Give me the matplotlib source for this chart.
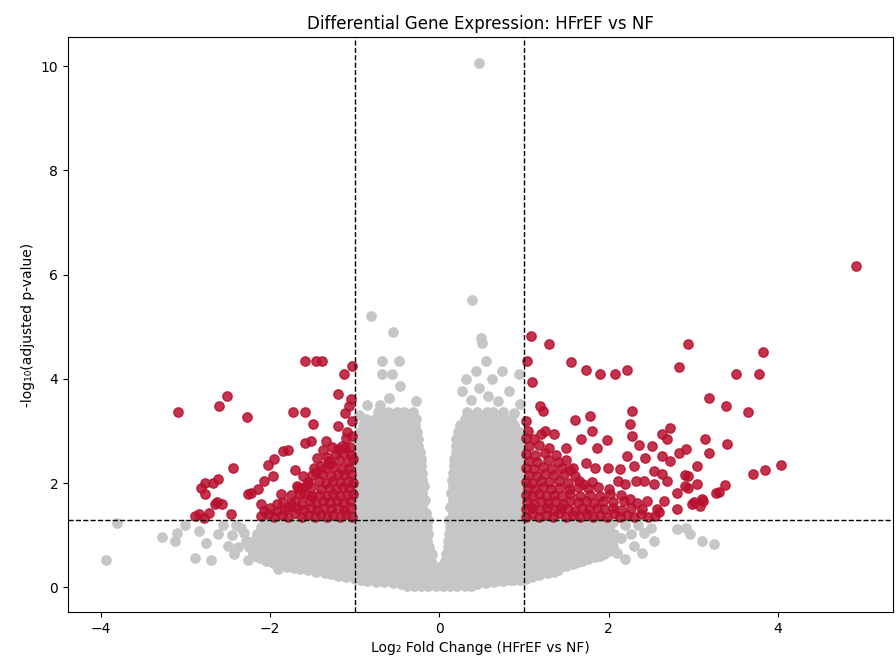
import numpy as np
import matplotlib
matplotlib.use('Agg')
import matplotlib.pyplot as plt

# grey cloud (not significant)
cloud_y = [0.03, 0.14, 0.27, 0.39, 0.51, 0.64, 0.77, 0.90, 1.03, 1.16, 1.26,
           1.29, 1.42, 1.55, 1.68, 1.81, 1.94, 2.07, 2.2, 2.33, 2.46, 2.59,
           2.72, 2.85, 2.98, 3.11, 3.24, 3.37]
cloud_x = [
    [-0.38, -0.3, -0.21, -0.13, -0.04, 0.04, 0.13, 0.21, 0.3, 0.38],
    [-0.92, -0.84, -0.75, -0.67, -0.58, -0.5, -0.41, -0.33, -0.24, -0.16, -0.07, 0.02, 0.1, 0.19, 0.27,
     0.36, 0.44, 0.53, 0.61, 0.7, 0.78, 0.87, 0.95],
    [-1.35, -1.27, -1.18, -1.1, -1.01, -0.93, -0.84, -0.76, -0.67, -0.59, -0.5, -0.42, -0.33, -0.25,
     -0.16, -0.08, 0.01, 0.09, 0.18, 0.26, 0.35, 0.43, 0.52, 0.6, 0.69, 0.77, 0.86, 0.94, 1.03, 1.11,
     1.2, 1.28],
    [-1.8, -1.72, -1.63, -1.55, -1.46, -1.38, -1.29, -1.21, -1.12, -1.04, -0.95, -0.87, -0.78, -0.7,
     -0.61, -0.53, -0.44, -0.36, -0.27, -0.19, -0.1, -0.02, 0.07, 0.15, 0.24, 0.32, 0.41, 0.49, 0.58,
     0.66, 0.75, 0.83, 0.92, 1.0, 1.09, 1.17, 1.26, 1.34, 1.43],
    [-2.05, -1.97, -1.88, -1.8, -1.71, -1.63, -1.54, -1.46, -1.37, -1.29, -1.2, -1.12, -1.03, -0.95,
     -0.86, -0.78, -0.69, -0.61, -0.52, -0.44, -0.35, -0.27, -0.18, -0.1, 0.07, 0.16, 0.24, 0.33, 0.41,
     0.5, 0.58, 0.67, 0.75, 0.84, 0.92, 1.01, 1.09, 1.18, 1.26, 1.35, 1.43, 1.52, 1.6, 1.69],
    [-2.2, -2.12, -2.03, -1.95, -1.86, -1.78, -1.69, -1.61, -1.52, -1.44, -1.35, -1.27, -1.18, -1.1,
     -1.01, -0.93, -0.84, -0.76, -0.67, -0.59, -0.5, -0.42, -0.33, -0.25, -0.16, -0.09, 0.08, 0.16, 0.25,
     0.33, 0.42, 0.5, 0.59, 0.67, 0.76, 0.84, 0.93, 1.01, 1.1, 1.18, 1.27, 1.35, 1.44, 1.52, 1.61, 1.69,
     1.78, 1.86, 1.95],
    [-2.25, -2.16, -2.08, -1.99, -1.91, -1.82, -1.74, -1.65, -1.57, -1.48, -1.4, -1.31, -1.23, -1.14,
     -1.06, -0.97, -0.89, -0.8, -0.72, -0.63, -0.55, -0.46, -0.38, -0.29, -0.21, -0.12, 0.1, 0.18, 0.27,
     0.35, 0.44, 0.52, 0.61, 0.69, 0.78, 0.86, 0.95, 1.03, 1.12, 1.2, 1.29, 1.37, 1.46, 1.54, 1.63, 1.71,
     1.8, 1.88, 1.97, 2.05],
    [-2.2, -2.12, -2.03, -1.95, -1.86, -1.78, -1.69, -1.61, -1.52, -1.44, -1.35, -1.27, -1.18, -1.1,
     -1.01, -0.93, -0.84, -0.76, -0.67, -0.59, -0.5, -0.42, -0.33, -0.25, -0.14, 0.1, 0.18, 0.27, 0.35,
     0.44, 0.52, 0.61, 0.69, 0.78, 0.86, 0.95, 1.03, 1.12, 1.2, 1.29, 1.37, 1.46, 1.54, 1.63, 1.71, 1.8,
     1.88, 1.97, 2.05],
    [-2.15, -2.07, -1.98, -1.9, -1.81, -1.73, -1.64, -1.56, -1.47, -1.39, -1.3, -1.22, -1.13, -1.05,
     -0.96, -0.88, -0.79, -0.71, -0.62, -0.54, -0.45, -0.37, -0.28, -0.2, -0.13, 0.12, 0.2, 0.29, 0.37,
     0.46, 0.54, 0.63, 0.71, 0.8, 0.88, 0.97, 1.05, 1.14, 1.22, 1.31, 1.39, 1.48, 1.56, 1.65, 1.73, 1.82,
     1.9, 1.99, 2.07],
    [-2.1, -2.01, -1.93, -1.84, -1.76, -1.67, -1.59, -1.5, -1.42, -1.33, -1.25, -1.16, -1.08, -0.99,
     -0.91, -0.82, -0.74, -0.65, -0.57, -0.48, -0.4, -0.31, -0.23, -0.14, 0.13, 0.21, 0.3, 0.38, 0.47,
     0.55, 0.64, 0.72, 0.81, 0.89, 0.98, 1.06, 1.15, 1.23, 1.32, 1.4, 1.49, 1.57, 1.66, 1.74, 1.83, 1.91,
     2.0],
    [-2.05, -1.97, -1.88, -1.8, -1.71, -1.63, -1.54, -1.46, -1.37, -1.29, -1.2, -1.12, -1.03,
     1.04, 1.12, 1.21, 1.29, 1.38, 1.46, 1.55, 1.63, 1.72, 1.8, 1.89, 1.97, 2.05],
    # the two lobes between the fold-change lines
    [-0.97, -0.88, -0.8, -0.71, -0.63, -0.54, -0.46, -0.37, -0.29, -0.2, -0.13,
     0.12, 0.2, 0.29, 0.37, 0.46, 0.54, 0.63, 0.71, 0.8, 0.88, 0.97],
    [-0.93, -0.84, -0.76, -0.67, -0.59, -0.5, -0.42, -0.33, -0.25, -0.16,
     0.16, 0.25, 0.33, 0.42, 0.5, 0.59, 0.67, 0.76, 0.84, 0.93],
    [-0.97, -0.88, -0.8, -0.71, -0.63, -0.54, -0.46, -0.37, -0.29, -0.2,
     0.13, 0.2, 0.29, 0.37, 0.46, 0.54, 0.63, 0.71, 0.8, 0.88, 0.97],
    [-0.93, -0.84, -0.76, -0.67, -0.59, -0.5, -0.42, -0.33, -0.25, -0.17,
     0.16, 0.25, 0.33, 0.42, 0.5, 0.59, 0.67, 0.76, 0.84, 0.93],
    [-0.97, -0.88, -0.8, -0.71, -0.63, -0.54, -0.46, -0.37, -0.29, -0.2,
     0.14, 0.21, 0.29, 0.37, 0.46, 0.54, 0.63, 0.71, 0.8, 0.88, 0.97],
    [-0.93, -0.84, -0.76, -0.67, -0.59, -0.5, -0.42, -0.33, -0.25, -0.18,
     0.16, 0.25, 0.33, 0.42, 0.5, 0.59, 0.67, 0.76, 0.84, 0.93],
    [-0.97, -0.88, -0.8, -0.71, -0.63, -0.54, -0.46, -0.37, -0.29, -0.2,
     0.15, 0.22, 0.29, 0.37, 0.46, 0.54, 0.63, 0.71, 0.8, 0.88, 0.97],
    [-0.93, -0.84, -0.76, -0.67, -0.59, -0.5, -0.42, -0.33, -0.25, -0.2,
     0.16, 0.25, 0.33, 0.42, 0.5, 0.59, 0.67, 0.76, 0.84, 0.93],
    [-0.97, -0.88, -0.8, -0.71, -0.63, -0.54, -0.46, -0.37, -0.29, -0.21,
     0.17, 0.24, 0.31, 0.39, 0.46, 0.54, 0.63, 0.71, 0.8, 0.88, 0.97],
    [-0.93, -0.84, -0.76, -0.67, -0.59, -0.5, -0.42, -0.33, -0.25, -0.22,
     0.18, 0.25, 0.33, 0.42, 0.5, 0.59, 0.67, 0.76, 0.84, 0.93],
    [-0.97, -0.88, -0.8, -0.71, -0.63, -0.54, -0.46, -0.37, -0.29, -0.23,
     0.2, 0.29, 0.37, 0.46, 0.54, 0.63, 0.71, 0.8, 0.88, 0.97],
    [-0.93, -0.84, -0.76, -0.67, -0.59, -0.5, -0.42, -0.33, -0.25,
     0.2, 0.27, 0.35, 0.42, 0.5, 0.59, 0.67, 0.76, 0.84, 0.93],
    [-0.97, -0.88, -0.8, -0.71, -0.63, -0.54, -0.46, -0.37, -0.29, -0.25,
     0.2, 0.29, 0.37, 0.46, 0.54, 0.63, 0.71, 0.8, 0.88, 0.97],
    [-0.93, -0.84, -0.76, -0.67, -0.59, -0.5, -0.42, -0.33, -0.26,
     0.22, 0.3, 0.38, 0.46, 0.54, 0.62, 0.7, 0.78, 0.86, 0.94],
    [-0.9, -0.8, -0.71, -0.63, -0.54, -0.46, -0.37, -0.29,
     0.25, 0.35, 0.44, 0.52, 0.61, 0.69, 0.78, 0.88],
    [-0.86, -0.76, -0.67, -0.59, -0.5, -0.42, -0.33, -0.27,
     0.3, 0.4, 0.48, 0.57, 0.66, 0.75, 0.85],
    [-0.72, -0.6, -0.5, -0.42, -0.31, 0.33, 0.45, 0.56, 0.64, 0.75],
]

# lower rim of the grey cloud (smooths the bowl shape)
cloud_rim = [
    (-0.45, 0.06), (-0.55, 0.08), (-0.65, 0.1), (-0.75, 0.11), (-0.85, 0.13), (-1.0, 0.17),
    (-1.1, 0.2), (-1.2, 0.22), (-1.28, 0.25), (-1.45, 0.3), (-1.55, 0.33), (-1.65, 0.35),
    (-1.72, 0.37), (-1.88, 0.43), (-1.96, 0.47), (-2.12, 0.56), (-2.17, 0.6),
    (0.45, 0.06), (0.55, 0.08), (0.65, 0.1), (0.75, 0.12), (0.85, 0.14), (1.02, 0.17), (1.1, 0.2),
    (1.18, 0.23), (1.35, 0.3), (1.4, 0.34), (1.5, 0.42), (1.58, 0.45), (1.64, 0.48), (1.76, 0.55),
    (1.84, 0.58), (1.9, 0.61), (2.0, 0.7),
]

# scattered grey genes
gray_outliers = [
    (0.47, 10.05), (0.39, 5.52), (0.49, 4.78), (0.51, 4.68), (0.55, 4.34), (0.43, 4.15), (0.74, 4.15),
    (0.32, 4.0), (0.62, 4.0), (0.94, 4.09), (0.47, 3.82), (0.82, 3.76), (0.27, 3.76), (0.7, 3.57),
    (0.96, 3.51), (0.38, 3.6), (0.58, 3.68), (0.88, 3.35),
    (-0.81, 5.2), (-0.54, 4.9), (-0.67, 4.34), (-0.48, 4.34), (-0.67, 4.09), (-0.56, 4.09),
    (-0.46, 3.86), (-0.59, 3.63), (-0.7, 3.5), (-0.27, 3.57), (-0.85, 3.5), (-0.95, 3.3),
    (-3.94, 0.52), (-3.27, 0.96), (-3.1, 1.05), (-3.12, 0.9), (-3.8, 1.24), (-2.84, 1.09), (-2.89, 0.57),
    (-2.69, 0.52), (-2.61, 1.03), (-2.5, 0.8), (-2.34, 1.15), (-2.42, 0.65), (-2.26, 0.52), (-1.9, 0.36),
    (-2.45, 1.0), (-2.38, 0.78), (-2.3, 1.05), (-2.28, 0.9), (-2.4, 1.2), (-2.55, 1.2), (-2.75, 0.85),
    (-3.0, 1.2),
    (2.26, 1.03), (2.42, 1.05), (2.54, 0.9), (2.4, 0.67), (2.19, 0.55), (2.81, 1.13), (2.92, 1.15),
    (2.96, 1.03), (3.1, 0.9), (3.25, 0.84), (2.3, 0.8), (2.15, 0.95), (2.2, 1.2), (2.35, 1.2),
    (2.5, 1.15), (2.1, 0.66),
]

# significant, down-regulated
red_left = [
    (-3.08, 3.37), (-2.6, 3.48), (-2.51, 3.67), (-2.27, 3.27), (-1.73, 3.37), (-1.59, 3.37),
    (-1.58, 4.34), (-1.46, 4.34), (-1.38, 4.34), (-1.03, 4.24), (-1.13, 4.09), (-1.19, 3.71),
    (-1.04, 3.62), (-1.06, 3.48), (-1.11, 3.35), (-1.49, 3.14), (-1.2, 3.1), (-1.09, 2.98),
    (-1.58, 2.77), (-1.52, 2.81), (-1.85, 2.62), (-1.79, 2.64), (-1.37, 2.64), (-1.11, 2.68),
    (-1.44, 2.49), (-1.95, 2.47), (-2.02, 2.35), (-2.43, 2.29), (-1.7, 2.26), (-1.46, 2.22),
    (-1.61, 2.14), (-1.96, 2.14), (-2.07, 2.05), (-2.61, 2.08), (-2.67, 2.01), (-2.77, 2.01),
    (-2.81, 1.91), (-2.77, 1.8), (-1.68, 1.95), (-2.22, 1.82), (-2.14, 1.89), (-1.87, 1.8),
    (-2.63, 1.63), (-2.57, 1.61), (-2.46, 1.41), (-2.84, 1.41), (-2.89, 1.38), (-2.11, 1.61),
    (-2.07, 1.47), (-1.91, 1.47), (-1.75, 1.61), (-1.29, 2.37), (-1.67, 1.91), (-1.52, 1.76),
    (-1.34, 2.8), (-2.78, 1.33), (-2.72, 1.42), (-2.65, 1.6), (-2.26, 1.8), (-1.03, 3.2),
    # dense part next to the cut-offs
    (-2.1, 1.37), (-2.02, 1.41), (-1.95, 1.35), (-1.86, 1.39), (-1.78, 1.36), (-1.7, 1.42),
    (-1.62, 1.35), (-1.55, 1.39), (-1.47, 1.36), (-1.4, 1.41), (-1.32, 1.35), (-1.25, 1.39),
    (-1.17, 1.36), (-1.1, 1.41), (-1.03, 1.36),
    (-2.0, 1.52), (-1.82, 1.5), (-1.68, 1.53), (-1.6, 1.48), (-1.52, 1.52), (-1.44, 1.49),
    (-1.36, 1.53), (-1.28, 1.5), (-1.2, 1.52), (-1.12, 1.49), (-1.04, 1.53),
    (-1.85, 1.64), (-1.7, 1.66), (-1.62, 1.61), (-1.53, 1.65), (-1.45, 1.62), (-1.37, 1.66),
    (-1.29, 1.63), (-1.21, 1.65), (-1.13, 1.62), (-1.05, 1.66),
    (-1.75, 1.77), (-1.6, 1.79), (-1.5, 1.75), (-1.42, 1.78), (-1.33, 1.76), (-1.25, 1.79),
    (-1.17, 1.75), (-1.09, 1.78), (-1.02, 1.8),
    (-1.62, 1.9), (-1.52, 1.92), (-1.4, 1.88), (-1.3, 1.91), (-1.22, 1.89), (-1.14, 1.93), (-1.06, 1.9),
    (-1.55, 2.03), (-1.42, 2.05), (-1.34, 2.01), (-1.25, 2.04), (-1.17, 2.02), (-1.08, 2.05),
    (-1.02, 2.0),
    (-1.5, 2.16), (-1.38, 2.18), (-1.28, 2.14), (-1.2, 2.17), (-1.12, 2.15), (-1.04, 2.18),
    (-1.35, 2.29), (-1.25, 2.31), (-1.15, 2.27), (-1.06, 2.3),
    (-1.3, 2.42), (-1.18, 2.44), (-1.08, 2.4), (-1.02, 2.46),
    (-1.22, 2.56), (-1.12, 2.58), (-1.04, 2.54), (-1.15, 2.72), (-1.05, 2.7), (-1.1, 2.86), (-1.03, 2.9),
    (-1.48, 2.3), (-1.56, 1.98), (-1.65, 1.8), (-1.78, 1.55), (-1.92, 1.6), (-1.4, 2.33),
    (-1.33, 2.5), (-1.2, 2.65), (-1.27, 2.7),
]

# significant, up-regulated
red_right = [
    (4.92, 6.17), (1.08, 4.82), (1.3, 4.67), (2.94, 4.67), (1.04, 4.34), (1.56, 4.32), (3.82, 4.51),
    (1.73, 4.17), (1.9, 4.09), (2.08, 4.09), (2.22, 4.17), (2.83, 4.23), (3.5, 4.09), (3.78, 4.09),
    (1.09, 3.94), (1.19, 3.48), (1.23, 3.38), (3.19, 3.63), (3.39, 3.48), (3.65, 3.37), (2.28, 3.38),
    (1.6, 3.21), (1.78, 3.29), (2.25, 3.14), (1.81, 3.0), (2.73, 3.06), (2.63, 2.94), (2.69, 2.85),
    (1.25, 3.0), (1.35, 2.94), (1.67, 2.85), (1.98, 2.83), (2.28, 2.9), (3.14, 2.85), (3.4, 2.75),
    (1.86, 2.68), (2.51, 2.72), (2.92, 2.66), (3.19, 2.58), (1.5, 2.68), (2.36, 2.73), (2.22, 2.52),
    (2.43, 2.49), (2.63, 2.52), (2.83, 2.58), (3.05, 2.33), (2.73, 2.43), (1.73, 2.39), (1.99, 2.29),
    (1.84, 2.29), (2.14, 2.28), (2.3, 2.33), (2.54, 2.24), (1.54, 2.26), (2.9, 2.16), (3.04, 1.99),
    (2.81, 1.82), (2.9, 1.95), (2.63, 2.18), (2.69, 2.05), (2.42, 2.05), (2.54, 1.99), (2.32, 2.05),
    (2.19, 1.99), (2.11, 2.05), (3.01, 1.63), (3.12, 1.66), (2.81, 1.51), (2.57, 1.51), (3.08, 1.57),
    (3.27, 1.82), (2.94, 2.14), (2.94, 1.91), (3.71, 2.18), (3.85, 2.26), (4.04, 2.35), (3.37, 1.97),
    (3.31, 1.84), (2.99, 1.61), (3.1, 1.7),
    # dense part next to the cut-offs
    (1.03, 1.36), (1.1, 1.41), (1.18, 1.35), (1.26, 1.39), (1.34, 1.36), (1.42, 1.42), (1.5, 1.35),
    (1.58, 1.39), (1.66, 1.36), (1.74, 1.41), (1.82, 1.35), (1.9, 1.39), (1.98, 1.36), (2.06, 1.42),
    (2.14, 1.35), (2.22, 1.39), (2.3, 1.36), (2.38, 1.41), (2.46, 1.35), (2.55, 1.38),
    (1.02, 1.5), (1.1, 1.53), (1.19, 1.48), (1.27, 1.52), (1.35, 1.49), (1.44, 1.53), (1.52, 1.5),
    (1.6, 1.47), (1.69, 1.52), (1.77, 1.49), (1.86, 1.53), (1.95, 1.5), (2.05, 1.52), (2.15, 1.48),
    (2.27, 1.53), (2.4, 1.5),
    (1.04, 1.64), (1.12, 1.61), (1.2, 1.66), (1.29, 1.62), (1.37, 1.65), (1.46, 1.61), (1.55, 1.66),
    (1.64, 1.63), (1.73, 1.65), (1.83, 1.62), (1.94, 1.66), (2.05, 1.63), (2.18, 1.65), (2.33, 1.62),
    (1.02, 1.77), (1.1, 1.75), (1.18, 1.79), (1.26, 1.76), (1.35, 1.78), (1.45, 1.75), (1.55, 1.79),
    (1.66, 1.76), (1.78, 1.78), (1.9, 1.75), (2.02, 1.79), (2.15, 1.77),
    (1.05, 1.9), (1.13, 1.88), (1.22, 1.92), (1.32, 1.89), (1.42, 1.91), (1.53, 1.88), (1.64, 1.92),
    (1.76, 1.9), (1.88, 1.93), (2.0, 1.89),
    (1.02, 2.03), (1.1, 2.01), (1.2, 2.05), (1.3, 2.02), (1.41, 2.04), (1.52, 2.01), (1.65, 2.05),
    (1.8, 2.03),
    (1.06, 2.16), (1.15, 2.14), (1.25, 2.18), (1.36, 2.15), (1.47, 2.17), (1.6, 2.14),
    (1.03, 2.29), (1.12, 2.27), (1.22, 2.31), (1.33, 2.28), (1.45, 2.3),
    (1.06, 2.42), (1.16, 2.4), (1.28, 2.44), (1.4, 2.41), (1.03, 2.56), (1.13, 2.54), (1.25, 2.58),
    (1.06, 2.71), (1.18, 2.73), (1.03, 2.86), (1.12, 2.84), (1.05, 3.0), (1.03, 3.2),
    (1.7, 1.98), (1.58, 2.3), (1.38, 2.55), (1.3, 2.68), (1.2, 2.95), (1.5, 2.45), (2.25, 1.7),
    (2.45, 1.65), (2.6, 1.45), (2.65, 1.65),
]

fc_cut = 1.0
p_cut = -np.log10(0.05)

gray_pts = [(x, y) for y, row in zip(cloud_y, cloud_x) for x in row] + cloud_rim + gray_outliers
gray = np.array(gray_pts)
red = np.array(red_left + red_right)

fig, ax = plt.subplots(figsize=(8.96, 6.66), dpi=100)
fig.subplots_adjust(left=0.076, right=0.997, bottom=0.081, top=0.944)

ax.scatter(gray[:, 0], gray[:, 1], s=45, c='#c6c6c6')
ax.scatter(red[:, 0], red[:, 1], s=45, c='#b8102e', alpha=0.85)

ax.axhline(p_cut, color='black', linestyle='--', linewidth=1)
ax.axvline(-fc_cut, color='black', linestyle='--', linewidth=1)
ax.axvline(fc_cut, color='black', linestyle='--', linewidth=1)

ax.set_title('Differential Gene Expression: HFrEF vs NF', fontsize=12)
ax.set_xlabel('Log₂ Fold Change (HFrEF vs NF)', fontsize=10)
ax.set_ylabel('-log₁₀(adjusted p-value)', fontsize=10)

fig.savefig('out.png', dpi=100)
